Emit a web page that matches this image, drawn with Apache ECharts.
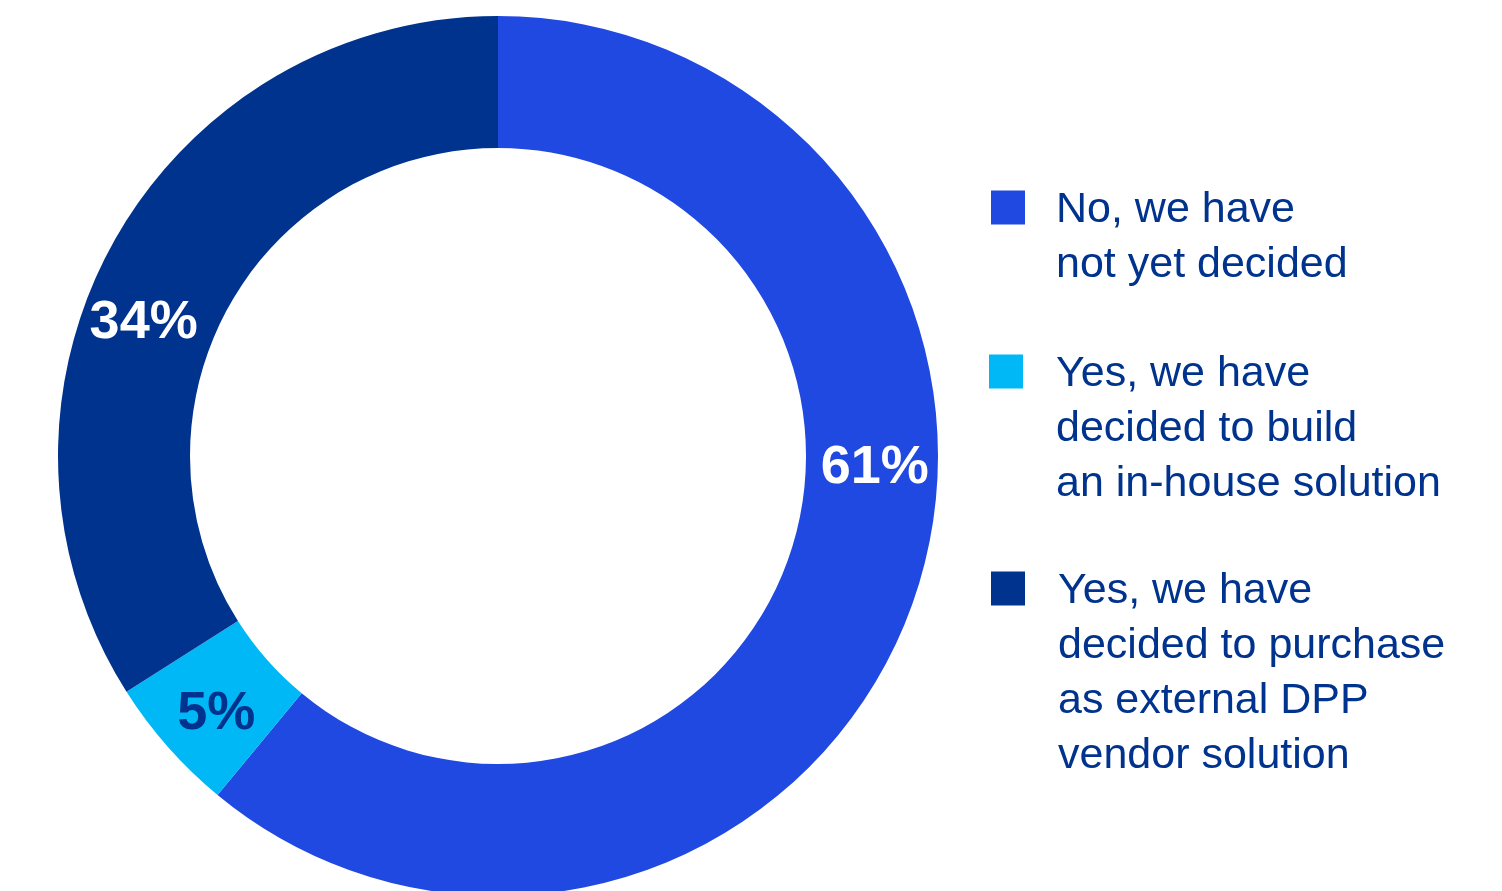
<!DOCTYPE html>
<html>
<head>
<meta charset="utf-8">
<title>DPP solution decision</title>
<script src="https://cdn.jsdelivr.net/npm/echarts@6/dist/echarts.min.js"></script>
<style>
  html, body { margin: 0; padding: 0; background: #ffffff; }
  #chart { width: 1502px; height: 891px; }
</style>
</head>
<body>
<div id="chart"></div>
<script>
// Answer categories (legend text uses line breaks as in the original)
const categories = [
  'No, we have\nnot yet decided',
  'Yes, we have\ndecided to build\nan in-house solution',
  'Yes, we have\ndecided to purchase\nas external DPP\nvendor solution'
];
// Share of respondents, %
const shares = [61, 5, 34];
const colors = ['#2049E2', '#00B8F5', '#00338D'];
const labelColors = ['#ffffff', '#00338D', '#ffffff'];

const chart = echarts.init(document.getElementById('chart'));

// label nudges so the numbers sit where the original puts them
const labelOffsets = [[22, -116], [1, 9], [-24, 49]];

const LINE_H = 55;
const TEXT_DROP = 6; // first legend line sits a little below the icon centre
const legendTops = [122, 231, 393];
const legendLefts = [991, 989, 991];
const legendTextGap = [26, 28, 28];

// the legend centres the text block on the icon; put empty lines
// in front so the icon lines up with the first real line instead
const legends = categories.map((name, i) => {
  const lines = name.split('\n').length;
  return {
    data: [name],
    orient: 'vertical',
    left: legendLefts[i],
    top: legendTops[i],
    padding: 0,
    icon: 'rect',
    itemWidth: 34,
    itemHeight: 34,
    selectedMode: false,
    formatter: n => '{b| }\n'.repeat(lines - 1) + n,
    textStyle: {
      fontFamily: 'Liberation Sans, Arial, sans-serif',
      fontSize: 43,
      color: '#00338D',
      lineHeight: LINE_H,
      padding: [0, 0, 0, legendTextGap[i]],
      rich: {
        b: {
          fontFamily: 'Liberation Sans, Arial, sans-serif',
          fontSize: 43,
          lineHeight: LINE_H + TEXT_DROP / (lines - 1)
        }
      }
    }
  };
});

const option = {
  animation: false,
  color: colors,
  legend: legends,
  series: [
    {
      type: 'pie',
      center: [498, 456],
      radius: [308, 440],
      startAngle: 90,
      clockwise: true,
      avoidLabelOverlap: false,
      silent: true,
      itemStyle: { borderWidth: 0 },
      labelLine: { show: false },
      label: {
        show: true,
        position: 'inside',
        formatter: '{c}%',
        fontFamily: 'Liberation Sans, Arial, sans-serif',
        fontWeight: 'bold',
        fontSize: 54
      },
      data: categories.map((name, i) => ({
        name: name,
        value: shares[i],
        label: { color: labelColors[i], offset: labelOffsets[i] }
      }))
    }
  ]
};

chart.setOption(option);
window.addEventListener('resize', () => chart.resize());
</script>
</body>
</html>
